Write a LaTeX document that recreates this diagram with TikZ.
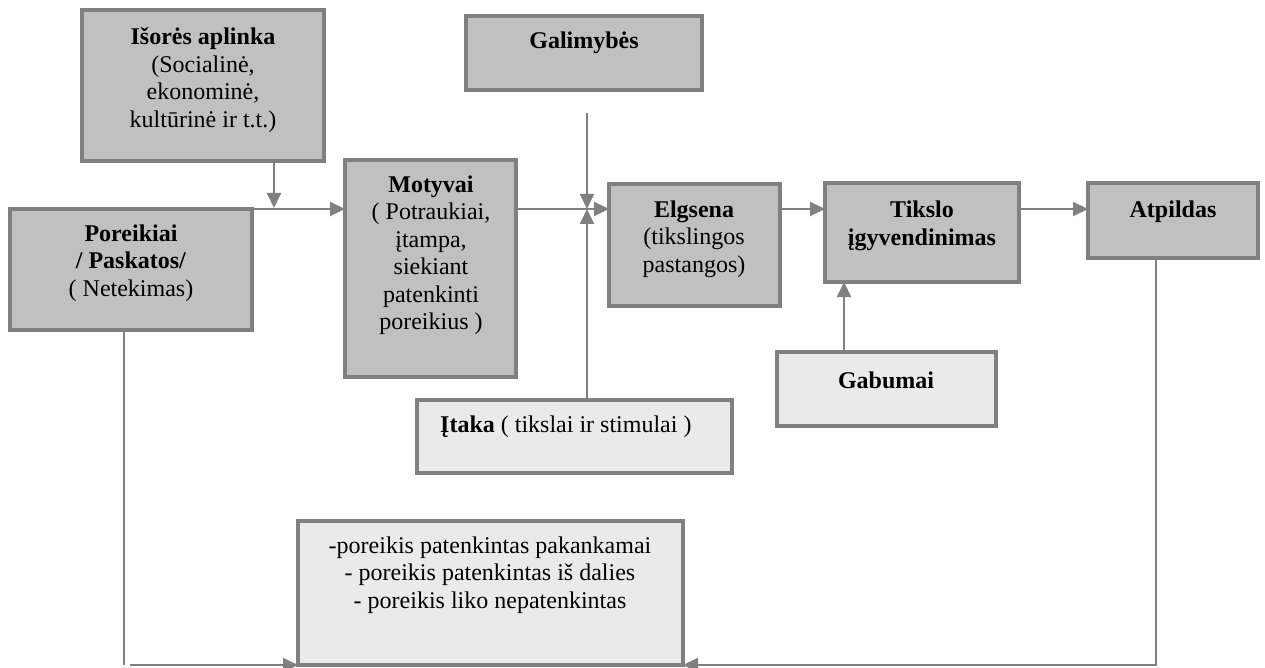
\documentclass[tikz,border=0pt]{standalone}
\usepackage{fontspec}
\setmainfont{Liberation Serif}
\usetikzlibrary{arrows.meta,calc}
\definecolor{boxdark}{HTML}{C0C0C0}
\definecolor{boxlight}{HTML}{EAEAEA}
\definecolor{edge}{HTML}{808080}
\tikzset{
  darkbox/.style={draw=edge, fill=boxdark, line width=3.5pt, inner sep=0pt, outer sep=0pt},
  lightbox/.style={draw=edge, fill=boxlight, line width=3.5pt, inner sep=0pt, outer sep=0pt},
  txt/.style={inner sep=0pt, align=center, font=\fontsize{24}{27.5}\selectfont},
  conn/.style={draw=edge, line width=2pt},
  flow/.style={conn, -{Triangle[length=15pt,width=14pt]}, edge},
}
\begin{document}
\begin{tikzpicture}[x=1pt,y=-1pt]
\useasboundingbox (0,0) rectangle (1265,668);

% boxes
\node[darkbox, minimum width=242, minimum height=151] (env) at (203,85.5) {};
\node[darkbox, minimum width=242, minimum height=121] (pore) at (131,269.5) {};
\node[darkbox, minimum width=171, minimum height=217] (mot) at (430.5,268.5) {};
\node[darkbox, minimum width=236, minimum height=74] (gal) at (584,53) {};
\node[darkbox, minimum width=171, minimum height=122] (elg) at (694.5,245) {};
\node[darkbox, minimum width=194, minimum height=99] (tik) at (922,232.5) {};
\node[darkbox, minimum width=170, minimum height=75] (atp) at (1173,220.5) {};
\node[lightbox, minimum width=219, minimum height=74] (gab) at (886.5,389) {};
\node[lightbox, minimum width=315, minimum height=73] (ita) at (574.5,436.5) {};
\node[lightbox, minimum width=385, minimum height=144] (res) at (490.5,593) {};

% texts
\node[txt] (envt) at (203,80) {\textbf{Išorės aplinka}\\(Socialinė,\\ekonominė,\\kultūrinė ir t.t.)};
\node[txt] (poret) at (131,263) {\textbf{Poreikiai}\\\textbf{/ Paskatos/}\\( Netekimas)};
\node[txt] (mott) at (431,255) {\textbf{Motyvai}\\( Potraukiai,\\įtampa,\\siekiant\\patenkinti\\poreikius )};
\node[txt] (galt) at (584,43) {\textbf{Galimybės}};
\node[txt] (elgt) at (694,239) {\textbf{Elgsena}\\(tikslingos\\pastangos)};
\node[txt] (tikt) at (922,226) {\textbf{Tikslo}\\\textbf{įgyvendinimas}};
\node[txt] (atpt) at (1173,212) {\textbf{Atpildas}};
\node[txt] (gabt) at (886,380) {\textbf{Gabumai}};
\node[txt, anchor=west] (itat) at (440,427) {\textbf{Įtaka} ( tikslai ir stimulai )};
\node[txt] (rest) at (490,575) {-poreikis patenkintas pakankamai\\- poreikis patenkintas iš dalies\\- poreikis liko nepatenkintas};

% junctions
\coordinate (j1) at (274,208);
\coordinate (j2) at (587,209);
\coordinate (j3) at (844,300);
\coordinate (cl) at (124,665);
\coordinate (clh) at (130,665);
\coordinate (cr) at (1156,665);

% connectors
\draw[flow] (env.south -| j1) -- (j1);
\draw[flow] (pore.north east) -- (pore.north east -| mot.west);
\draw[flow] (mot.east |- j2) -- (elg.west |- j2);
\draw[flow] ($(gal.south -| j2)+(0,23)$) -- (j2);
\draw[flow] (ita.north -| j2) -- (j2);
\draw[flow] (elg.east |- j2) -- (tik.west |- j2);
\draw[flow] (tik.east |- j2) -- (atp.west |- j2);
\draw[flow] (gab.north -| j3) -- (tik.south -| j3);
\draw[conn] (pore.south -| cl) -- (cl);
\draw[flow] (clh) -- (res.south west);
\draw[flow] (atp.south -| cr) -- (cr) -- (res.south east);
\end{tikzpicture}
\end{document}
